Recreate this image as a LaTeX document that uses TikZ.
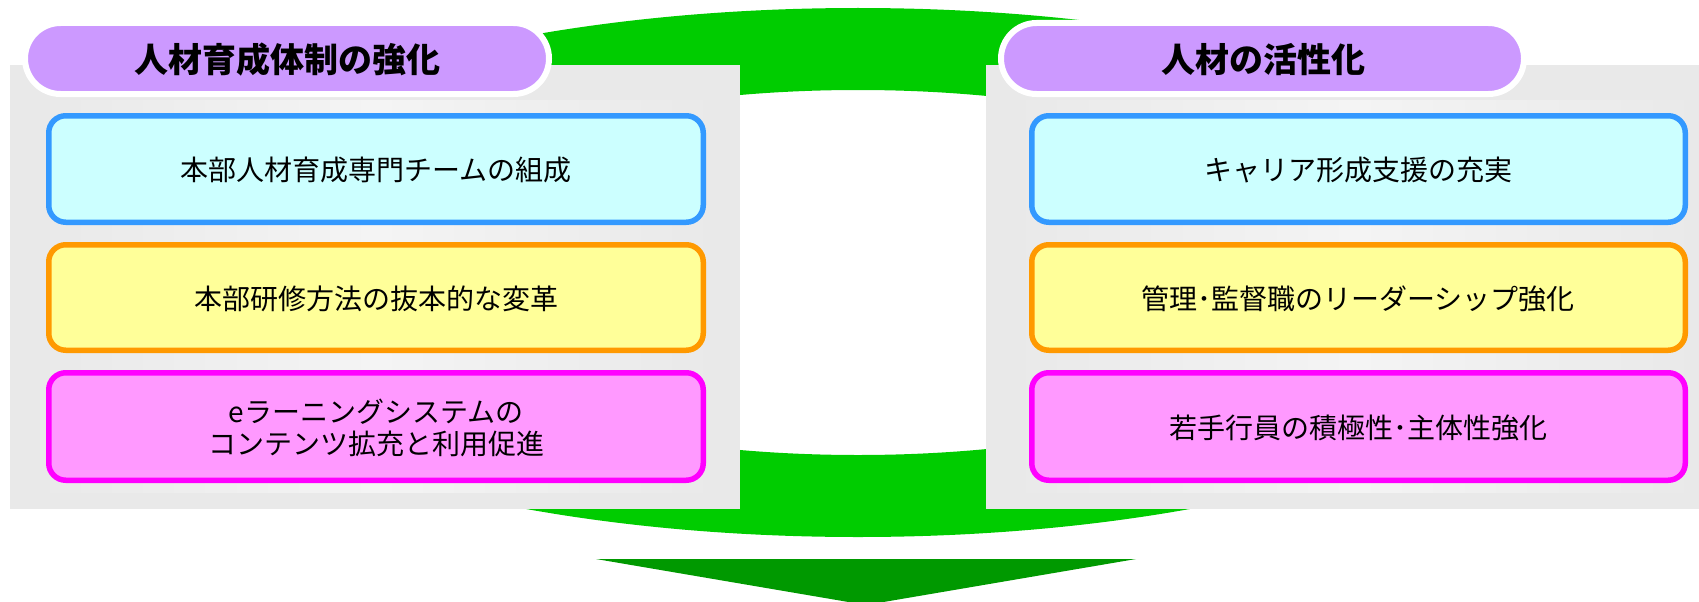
\documentclass[tikz,border=0pt]{standalone}
\usepackage{fontspec}
\newfontfamily\jp{Noto Sans CJK JP}
\definecolor{ringgreen}{HTML}{00CC00}
\definecolor{headgreen}{HTML}{009900}
\definecolor{panelgray}{HTML}{E9E9E9}
\definecolor{panellight}{HTML}{F4F4F4}
\definecolor{pillpurple}{HTML}{CC99FF}
\definecolor{cyanfill}{HTML}{CCFFFF}
\definecolor{cyanline}{HTML}{3399FF}
\definecolor{yelfill}{HTML}{FFFF99}
\definecolor{yelline}{HTML}{FF9900}
\definecolor{pinkfill}{HTML}{FF99FF}
\definecolor{pinkline}{HTML}{FF00FF}
\tikzset{
  pill/.style={draw=white, line width=6pt, fill=pillpurple, rounded corners=35.5pt},
  itembox/.style={line width=5.5pt, rounded corners=17pt},
  boxA/.style={itembox, draw=cyanline, fill=cyanfill},
  boxB/.style={itembox, draw=yelline, fill=yelfill},
  boxC/.style={itembox, draw=pinkline, fill=pinkfill},
  titletext/.style={font=\jp\bfseries\fontsize{34}{38}\selectfont, inner sep=0pt, text=black},
  itemtext/.style={font=\jp\fontsize{28}{32}\selectfont, inner sep=0pt, align=center, text=black},
}
\begin{document}
\begin{tikzpicture}[x=1pt, y=-1pt]
\useasboundingbox (0,0) rectangle (1699,602);
\clip (0,0) rectangle (1699,602);
% green ring and arrow head
\fill[ringgreen, even odd rule] (858,272.5) ellipse [x radius=740, y radius=264.5]
  (858,272.5) ellipse [x radius=505, y radius=182.5];
\fill[headgreen] (596,559) -- (1136,559) -- (866,605) -- cycle;
% panels
\fill[panelgray] (10,65) rectangle (740,509);
\shade[left color=panelgray, right color=panelgray, middle color=panellight] (34,100) rectangle (718,492);
\fill[panelgray] (986,65) rectangle (1699,509);
\shade[left color=panelgray, right color=panelgray, middle color=panellight] (1010,100) rectangle (1699,492);
% pills
\draw[pill] (25,23) rectangle (549,94);
\node[titletext] (t1) at (287,60) {人材育成体制の強化};
\draw[pill] (1001,23) rectangle (1524,94);
\node[titletext] (t2) at (1263,60) {人材の活性化};
% left boxes
\draw[boxA] (48.75,115.75) rectangle (703.25,222.25);
\node[itemtext] (l1) at (376,170) {本部人材育成専門チームの組成};
\draw[boxB] (48.75,244.75) rectangle (703.25,350.25);
\node[itemtext] (l2) at (376,299) {本部研修方法の抜本的な変革};
\draw[boxC] (48.75,372.75) rectangle (703.25,480.25);
\node[itemtext] (l3) at (376,428) {eラーニングシステムの\\コンテンツ拡充と利用促進};
% right boxes
\draw[boxA] (1031.75,115.75) rectangle (1685.25,222.25);
\node[itemtext] (r1) at (1358,170) {キャリア形成支援の充実};
\draw[boxB] (1031.75,244.75) rectangle (1685.25,350.25);
\node[itemtext] (r2) at (1358,299) {管理･監督職のリーダーシップ強化};
\draw[boxC] (1031.75,372.75) rectangle (1685.25,480.25);
\node[itemtext] (r3) at (1358,428) {若手行員の積極性･主体性強化};
\end{tikzpicture}
\end{document}
